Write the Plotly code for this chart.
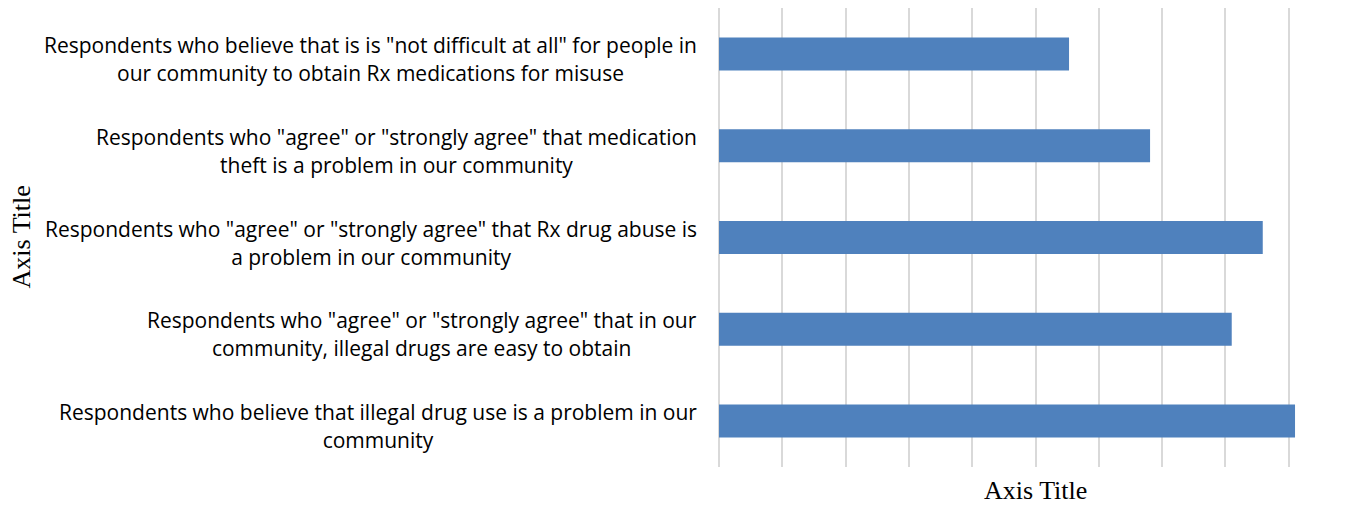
import plotly.graph_objects as go

# Survey statements, listed top to bottom; "<br>" marks the line breaks in each label
categories = [
    'Respondents who believe that is is "not difficult at all" for people in<br>our community to obtain Rx medications for misuse',
    'Respondents who "agree" or "strongly agree" that medication<br>theft is a problem in our community',
    'Respondents who "agree" or "strongly agree" that Rx drug abuse is<br>a problem in our community',
    'Respondents who "agree" or "strongly agree" that in our<br>community, illegal drugs are easy to obtain',
    'Respondents who believe that illegal drug use is a problem in our<br>community',
]
# Share of respondents (%)
values = [55.3, 68.1, 85.9, 81.0, 91.0]

x_title = "Axis Title"
y_title = "Axis Title"

BAR_COLOR = "#4f81bd"
GRID_COLOR = "#d9d9d9"
LABEL_FONT = "Open Sans"
LABEL_SIZE = 21        # glyph size of the category labels
LABEL_LINE_EM = 21.5   # em base that sets the line spacing of the labels
TITLE_FONT = "Liberation Serif"
TITLE_SIZE = 26

fig = go.Figure(
    go.Bar(
        x=values,
        y=categories,
        orientation="h",
        marker=dict(color=BAR_COLOR, line=dict(width=0)),
        hoverinfo="x+y",
    )
)

# Category labels as centred multi-line blocks, right-aligned next to the plot
for cat in categories:
    text = "<br>".join(
        f'<span style="font-size:{LABEL_SIZE}px">{line}</span>' for line in cat.split("<br>")
    )
    fig.add_annotation(
        xref="paper", x=0, xshift=-20, xanchor="right",
        yref="y", y=cat, yshift=-5, yanchor="middle",
        text=text, align="center", showarrow=False,
        font=dict(family=LABEL_FONT, size=LABEL_LINE_EM, color="#000000"),
    )

# Axis titles
fig.add_annotation(
    xref="paper", x=0.5, yref="paper", y=0, yshift=-7, yanchor="top",
    text=x_title, showarrow=False,
    font=dict(family=TITLE_FONT, size=TITLE_SIZE, color="#000000"),
)
fig.add_annotation(
    xref="paper", x=0, xshift=-698, xanchor="center",
    yref="paper", y=0.5, yanchor="middle", textangle=-90,
    text=y_title, showarrow=False,
    font=dict(family=TITLE_FONT, size=TITLE_SIZE, color="#000000"),
)

fig.update_layout(
    width=1357, height=506,
    margin=dict(l=719, r=5, t=8, b=39, autoexpand=False),
    paper_bgcolor="#ffffff", plot_bgcolor="#ffffff",
    bargap=0.64,
    showlegend=False,
)
fig.update_xaxes(
    range=[0, 100], dtick=10, showticklabels=False,
    showgrid=True, gridcolor=GRID_COLOR, gridwidth=1.5,
    zeroline=True, zerolinecolor=GRID_COLOR, zerolinewidth=1.5,
    showline=False, ticks="", fixedrange=True,
)
fig.update_yaxes(
    type="category", autorange="reversed", showticklabels=False,
    showgrid=False, zeroline=False, showline=False, ticks="", fixedrange=True,
)

fig.write_html("out.html")
